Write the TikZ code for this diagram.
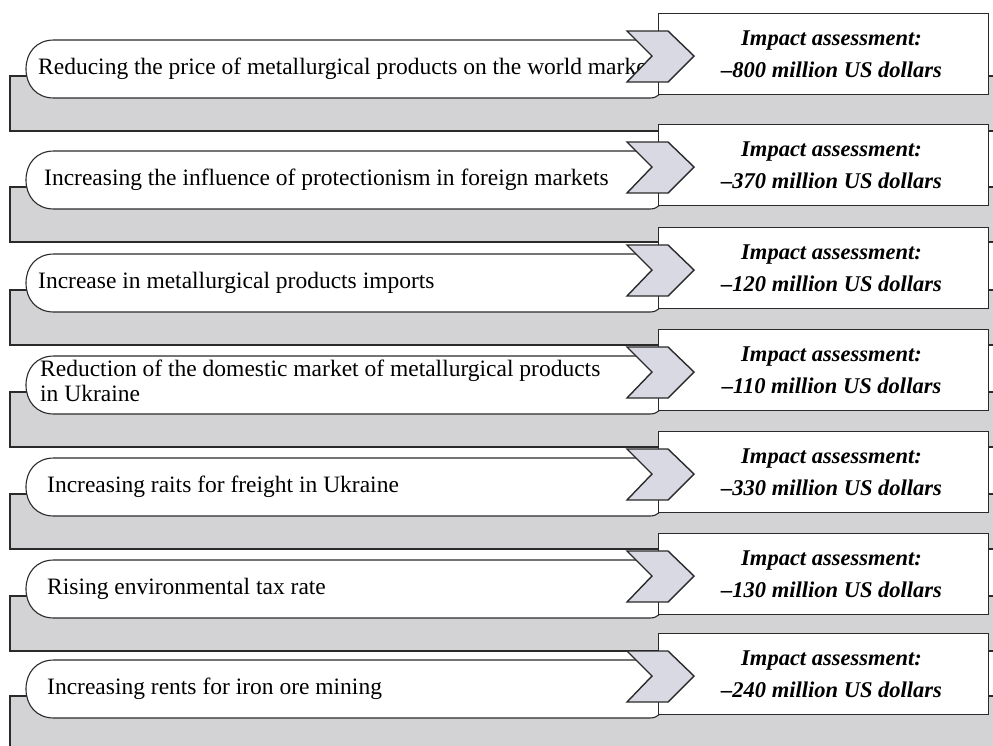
\documentclass[tikz,border=0pt]{standalone}
\usepackage{fontspec}
\setmainfont{Liberation Serif}
\definecolor{bandgray}{HTML}{D3D3D5}
\definecolor{chevfill}{HTML}{D9D9E4}
\definecolor{edge}{HTML}{2A2A2A}
\tikzset{
  band/.style={draw=edge, line width=1.1pt, fill=bandgray},
  pill/.style={draw=edge, line width=1.1pt, fill=white},
  chev/.style={draw=edge, line width=1.4pt, fill=chevfill, line join=miter},
  cause/.style={anchor=west, inner sep=0pt, align=left, font=\fontsize{23.5}{25}\selectfont},
  impact/.style={draw=edge, line width=1.1pt, fill=white, minimum width=330pt, minimum height=81pt,
    inner sep=0pt, align=center, font=\fontsize{22.5}{32}\selectfont\bfseries\itshape, anchor=north west}
}
\begin{document}
\begin{tikzpicture}[x=1pt,y=-1pt]
\useasboundingbox (0,0) rectangle (993,745);
\clip (0,0) rectangle (993,745);
\foreach \T/\X/\Y/\txt/\val [count=\i] in {
  40/38/29/{Reducing the price of metallurgical products on the world market}/800,
  151/44/29/{Increasing the influence of protectionism in foreign markets}/370,
  254/38/29/{Increase in metallurgical products imports}/120,
  356/40/25/{Reduction of the domestic market of metallurgical products\\in Ukraine}/110,
  458/47/29/{Increasing raits for freight in Ukraine}/330,
  560/47/29/{Rising environmental tax rate}/130,
  660/47/29/{Increasing rents for iron ore mining}/240} {
  \path[band] (10,\T+36) rectangle (1010,\T+91);
  \path[pill] (54,\T) -- (664,\T) -- (664,\T+44) .. controls (664,\T+52) and (658,\T+58) .. (650,\T+58)
     -- (54,\T+58) .. controls (36,\T+58) and (26,\T+45) .. (26,\T+29)
     .. controls (26,\T+13) and (36,\T) .. (54,\T) -- cycle;
  \node[cause] (cause\i) at (\X,\T+\Y) {\txt};
  \node[impact] (impact\i) at (658,\T-27) {\hspace*{16pt}Impact assessment:\\\hspace*{16pt}–\val{} million US dollars};
  \path[chev] (627,\T-9) -- (668,\T-9) -- (694,\T+16) -- (668,\T+42) -- (627,\T+42) -- (652,\T+16) -- cycle;
}
\end{tikzpicture}
\end{document}
